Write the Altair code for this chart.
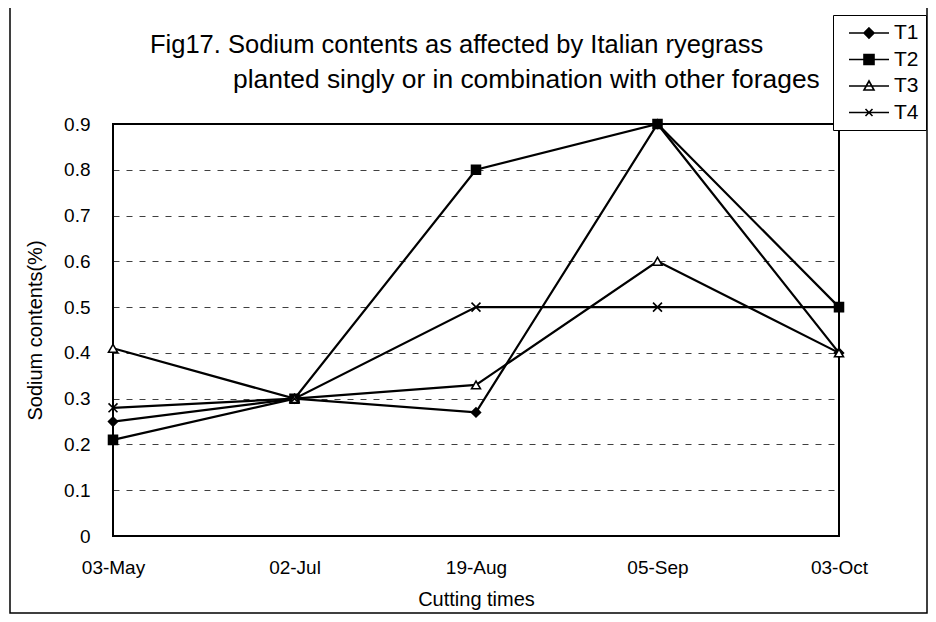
import altair as alt
import pandas as pd

# ---- data ----
cuts = ["03-May", "02-Jul", "19-Aug", "05-Sep", "03-Oct"]
series = ["T1", "T2", "T3", "T4"]
t1 = [0.25, 0.30, 0.27, 0.90, 0.40]
t2 = [0.21, 0.30, 0.80, 0.90, 0.50]
t3 = [0.41, 0.30, 0.33, 0.60, 0.40]
t4 = [0.28, 0.30, 0.50, 0.50, 0.50]
y_ticks = [0, 0.1, 0.2, 0.3, 0.4, 0.5, 0.6, 0.7, 0.8, 0.9]
title_lines = [
    "Fig17. Sodium contents as affected by Italian ryegrass",
    "planted singly or in combination with other forages",
]
x_title = "Cutting times"
y_title = "Sodium contents(%)"

# ---- styles ----
FONT = "Liberation Sans, Arial, sans-serif"
X_PATH = "M-1,-1L1,1M-1,1L1,-1"
plot_shapes = ["diamond", "square", "triangle-up", X_PATH]
fills = ["black", "black", "white", "black"]
strokes = ["black", "black", "black", "black"]
# legend symbols: a 40px line with the marker in the middle (unit = 10px)
legend_paths = [
    "M-2,0H2M0,-0.5L0.5,0L0,0.5L-0.5,0Z",
    "M-2,0H2M-0.5,-0.5H0.5V0.5H-0.5Z",
    "M-2,0H2M0,-0.5L0.5,0.4H-0.5Z",
    "M-2,0H2M-0.35,-0.35L0.35,0.35M-0.35,0.35L0.35,-0.35",
]

rows = []
for s, vals in zip(series, [t1, t2, t3, t4]):
    for c, v in zip(cuts, vals):
        rows.append({"series": s, "mk": s, "cut": c, "value": v})
df = pd.DataFrame(rows)

W, H = 726, 412

x = alt.X(
    "cut:O",
    sort=cuts,
    scale=alt.Scale(type="point", padding=0),
    axis=alt.Axis(
        title=x_title,
        labelAngle=0,
        labelFont=FONT,
        labelFontSize=19,
        labelColor="black",
        labelPadding=22,
        titleFont=FONT,
        titleFontSize=20,
        titleFontWeight="normal",
        titleColor="black",
        titlePadding=12,
        ticks=False,
        domain=False,
        grid=False,
    ),
)
y = alt.Y(
    "value:Q",
    scale=alt.Scale(domain=[0, 0.9], nice=False),
    axis=alt.Axis(
        title=y_title,
        values=y_ticks,
        format="~g",
        labelFont=FONT,
        labelFontSize=19,
        labelColor="black",
        labelPadding=23,
        titleFont=FONT,
        titleFontSize=20,
        titleFontWeight="normal",
        titleColor="black",
        titlePadding=18,
        ticks=False,
        domain=False,
        grid=True,
        gridColor="black",
        gridDash=[6, 7],
        gridWidth=1,
        gridOpacity=0.75,
    ),
)

lines = alt.Chart(df).mark_line(color="black", strokeWidth=2.2).encode(
    x=x, y=y, detail="series:N"
)

# data-less layer that only provides the legend (line + marker symbols)
legend_layer = alt.Chart(df).transform_filter("false").mark_point(
    filled=True, opacity=1, strokeWidth=1.6
).encode(
    x=x,
    y=y,
    shape=alt.Shape(
        "series:N",
        scale=alt.Scale(domain=series, range=legend_paths),
        legend=alt.Legend(
            title=None,
            orient="none",
            legendX=720,
            legendY=-109,
            symbolSize=400,
            symbolStrokeWidth=1.6,
            symbolStrokeColor="black",
            symbolOpacity=1,
            symbolOffset=18,
            labelFont=FONT,
            labelFontSize=21,
            labelColor="black",
            labelOffset=14,
            rowPadding=5.5,
            padding=7,
            strokeColor="black",
            fillColor="white",
            cornerRadius=0,
        ),
    ),
    fill=alt.Fill("series:N", scale=alt.Scale(domain=series, range=fills)),
    stroke=alt.Stroke("series:N", scale=alt.Scale(domain=series, range=strokes)),
)

points = alt.Chart(df).mark_point(
    filled=True, size=80, strokeWidth=1.6, opacity=1
).encode(
    x=x,
    y=y,
    shape=alt.Shape("mk:N", scale=alt.Scale(domain=series, range=plot_shapes), legend=None),
    fill=alt.Fill("mk:N", scale=alt.Scale(domain=series, range=fills), legend=None),
    stroke=alt.value("black"),
)

title1 = alt.Chart(pd.DataFrame({"t": [title_lines[0]]})).mark_text(
    font=FONT, fontSize=25.5, align="left", baseline="middle", color="black"
).encode(text="t:N", x=alt.value(37), y=alt.value(-79))
title2 = alt.Chart(pd.DataFrame({"t": [title_lines[1]]})).mark_text(
    font=FONT, fontSize=26.4, align="left", baseline="middle", color="black"
).encode(text="t:N", x=alt.value(120), y=alt.value(-44))

frame = alt.Chart(pd.DataFrame({"a": [0]})).mark_rect(
    fill=None, stroke="black", strokeWidth=1.5
).encode(
    x=alt.value(-103), x2=alt.value(814), y=alt.value(-119), y2=alt.value(489)
)

chart = (
    alt.layer(frame, lines, legend_layer, points, title1, title2)
    .resolve_scale(shape="independent", fill="independent", stroke="independent")
    .properties(
        width=W,
        height=H,
        autosize=alt.AutoSizeParams(type="none"),
        padding={"left": 105, "top": 116, "right": 89, "bottom": 78},
        background="white",
    )
    .configure_view(stroke="black", strokeWidth=2)
)

chart.save("out.html", embed_options={"renderer": "svg", "actions": False})
